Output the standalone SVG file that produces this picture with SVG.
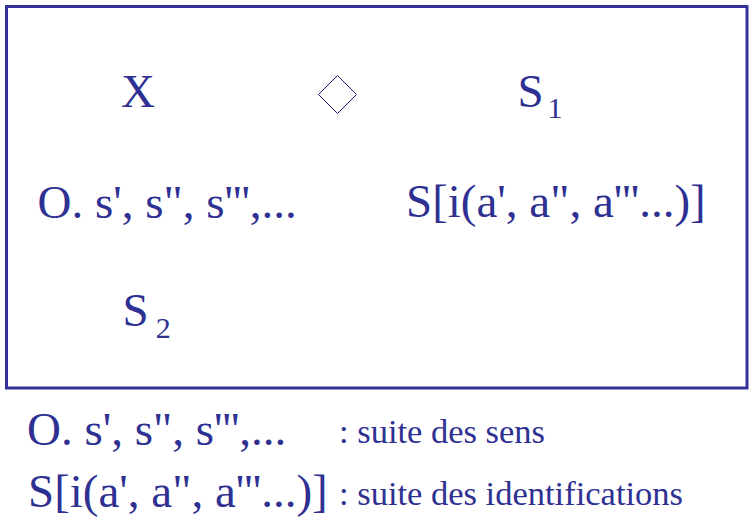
<svg xmlns="http://www.w3.org/2000/svg" width="756" height="530" viewBox="0 0 756 530">
<style>
.t{font-family:"Liberation Serif","Times New Roman",serif;fill:#2E3192}
.big{font-size:47px}
.sub{font-size:30px}
.leg{font-size:34.5px}
</style>
<rect width="756" height="530" fill="#ffffff"/>
<g id="frame">
<rect x="6.5" y="6.5" width="740.5" height="381.5" fill="none" stroke="#333399" stroke-width="3"/>
</g>
<g id="node-X"><text class="t big" x="121" y="107">X</text></g>
<g id="node-diamond"><polygon points="337.5,75.5 356.5,94.5 337.5,113.5 318.5,94.5" fill="none" stroke="#1c1c6a" stroke-width="1"/></g>
<g id="node-S1"><text class="t big" x="517.5" y="107">S</text><text class="t sub" x="547.4" y="117.5">1</text></g>
<g id="node-O"><text class="t big" x="37.5" y="218">O. s', s", s''',...</text></g>
<g id="node-Si"><text class="t big" x="406" y="217">S[i(a', a", a'''...)]</text></g>
<g id="node-S2"><text class="t big" x="122.5" y="326">S</text><text class="t sub" x="155.8" y="337.5">2</text></g>
<g id="connectors"></g>
<g id="legend">
<text class="t big" x="27" y="445">O. s', s", s''',...</text>
<text class="t leg" x="339" y="442.5">: suite des sens</text>
<text class="t big" x="28" y="507">S[i(a', a", a'''...)]</text>
<text class="t leg" x="339" y="505">: suite des identifications</text>
</g>
</svg>
